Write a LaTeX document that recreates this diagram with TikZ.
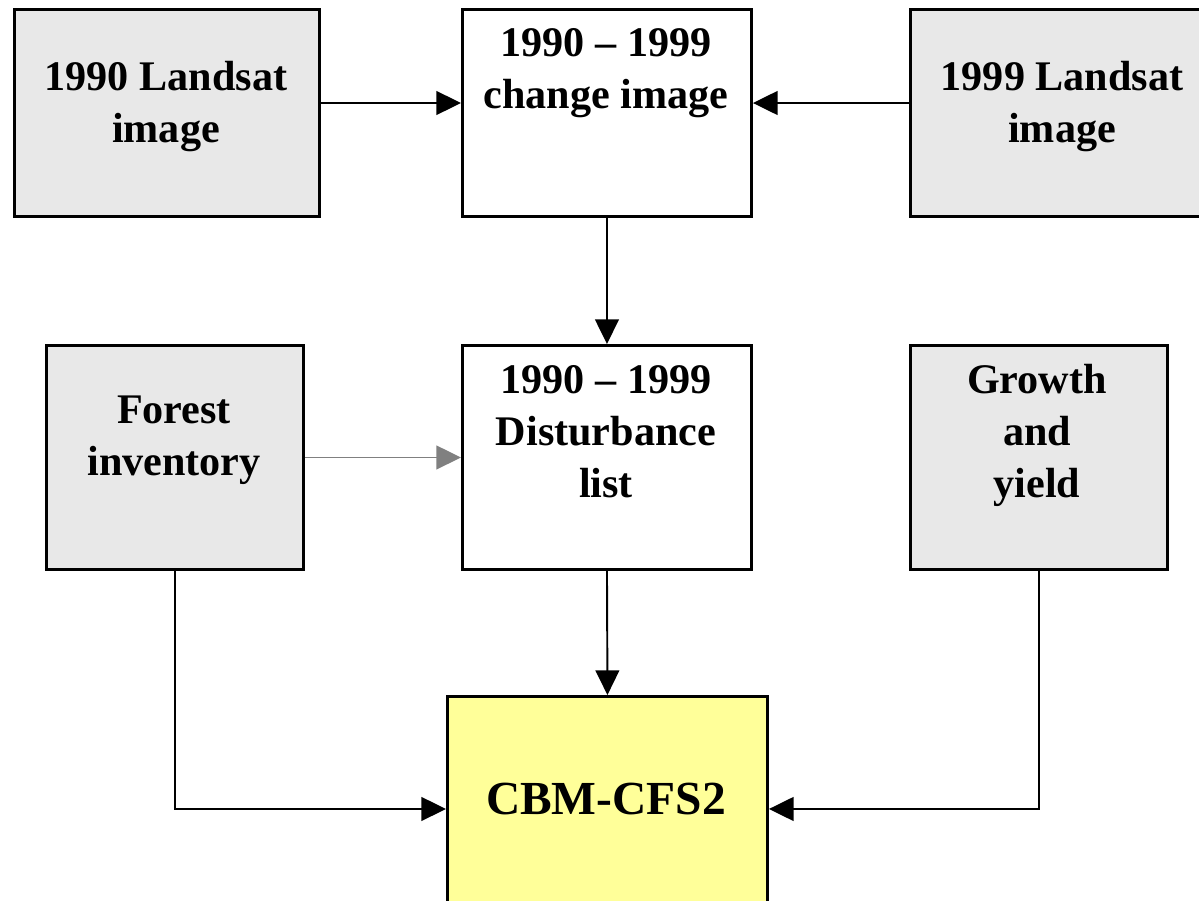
\documentclass[tikz,border=0pt]{standalone}
\usepackage{fontspec}
\setmainfont{Liberation Serif}
\usetikzlibrary{arrows.meta}
\definecolor{boxgray}{HTML}{E8E8E8}
\definecolor{boxyellow}{HTML}{FFFF99}
\definecolor{arrgray}{HTML}{808080}
\begin{document}
\begin{tikzpicture}[x=0.02cm,y=-0.02cm,
  box/.style={draw=black, line width=1.7pt, anchor=north west, inner sep=0pt},
  lbl/.style={font=\bfseries\fontsize{24}{29.5}\selectfont, align=center, inner sep=0pt},
  arr/.style={line width=1.1pt, -{Triangle[length=14pt,width=13.5pt]}}]
\useasboundingbox (0,0) rectangle (1199,900);
\clip (0,0) rectangle (1199,900);
% boxes
\node[box, fill=boxgray, minimum width=6.1cm, minimum height=4.14cm] (A) at (13,8) {};
\node[box, fill=white, minimum width=5.78cm, minimum height=4.14cm] (B) at (461,8) {};
\node[box, fill=boxgray, minimum width=6.02cm, minimum height=4.14cm] (C) at (909,8) {};
\node[box, fill=boxgray, minimum width=5.14cm, minimum height=4.48cm] (D) at (45,344) {};
\node[box, fill=white, minimum width=5.78cm, minimum height=4.48cm] (E) at (461,344) {};
\node[box, fill=boxgray, minimum width=5.14cm, minimum height=4.48cm] (F) at (909,344) {};
\node[box, fill=boxyellow, minimum width=6.4cm, minimum height=4.5cm] (G) at (446,695) {};
% labels
\node[lbl] (tA) at (166,106.5) {1990 Landsat\\image};
\node[lbl] (tB) at (606,73) {1990 -- 1999\\change image};
\node[lbl] (tC) at (1062,106.5) {1999 Landsat\\image};
\node[lbl] (tD) at (174,440.5) {Forest\\inventory};
\node[lbl] (tE) at (606,431.5) {1990 -- 1999\\Disturbance\\list};
\node[lbl] (tF) at (1037,435.5) {Growth\\and\\yield};
\node[lbl, font=\bfseries\fontsize{27}{32}\selectfont] (tG) at (606,799) {CBM-CFS2};
% connectors
\coordinate (h1) at (0,103);
\draw[arr] (A.east |- h1) -- (B.west |- h1);
\draw[arr] (C.west |- h1) -- (B.east |- h1);
\draw[arr] (B.south) -- (E.north);
\draw[arr, draw=arrgray, fill=arrgray] (D.east) -- (E.west);
\draw[arr] (E.south) -- (G.north);
\draw[arr] (D.south) |- (G.west);
\draw[arr] (F.south) |- (G.east);
\end{tikzpicture}
\end{document}
